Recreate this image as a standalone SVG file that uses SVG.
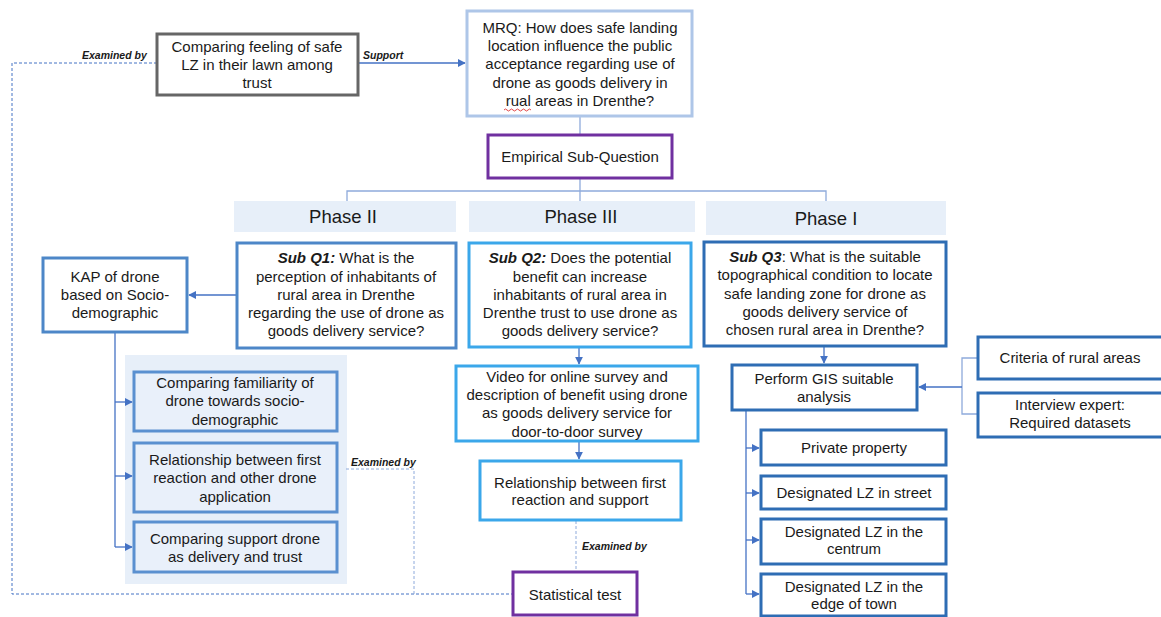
<svg xmlns="http://www.w3.org/2000/svg" width="1161" height="617" viewBox="0 0 1161 617">
<defs>
<marker id="ah" viewBox="0 0 10 10" refX="9" refY="5" markerWidth="8" markerHeight="8" markerUnits="userSpaceOnUse" orient="auto">
<path d="M0,0 L10,5 L0,10 z" fill="#4472c4"/>
</marker>
<style>
text{font-family:"Liberation Sans",Arial,sans-serif;fill:#1a1a1a;font-size:15px;text-anchor:middle}
.lbl{font-size:10.5px;font-weight:bold;font-style:italic;text-anchor:start}
.ph{font-size:18.5px}
.bi{font-weight:bold;font-style:italic}
.box{fill:#fff;stroke-width:3}
.gray{stroke:#666}
.light{stroke:#aec6e8}
.purple{stroke:#7030a0}
.mid{stroke:#4d87c8}
.cyan{stroke:#3ba7ea}
.dark{stroke:#2e6db4}
.grp{fill:#e9f0fa;stroke:#5a90d0;stroke-width:3}
.head{fill:#e7eff9}
.ln{fill:none;stroke:#4472c4;stroke-width:1.3}
.lt{fill:none;stroke:#8eaadb;stroke-width:1.3}
.ds{fill:none;stroke:#4472c4;stroke-width:1;stroke-dasharray:3,2}
.dsl{fill:none;stroke:#8eaadb;stroke-width:1;stroke-dasharray:3,2}
</style>
</defs>
<rect width="1161" height="617" fill="#fff"/>

<g id="group-bg"><rect x="125" y="355" width="222" height="229" fill="#e7eff9"/></g>

<g id="connectors">
<path class="ln" d="M358,63 H465" marker-end="url(#ah)"/>
<path class="ds" d="M157,63 H12 V594 H513"/>
<path class="lt" d="M580,116 V134"/>
<path class="lt" d="M580,178 V201"/>
<path class="lt" d="M347,201 V191 H826 V201"/>
<path class="ln" d="M236,295 H189" marker-end="url(#ah)"/>
<path class="ln" d="M115,332 V547"/>
<path class="ln" d="M115,402 H132" marker-end="url(#ah)"/>
<path class="ln" d="M115,476 H132" marker-end="url(#ah)"/>
<path class="ln" d="M115,547 H132" marker-end="url(#ah)"/>
<path class="dsl" d="M346,469 H414 V594"/>
<path class="ln" d="M579,347 V364" marker-end="url(#ah)"/>
<path class="ln" d="M579,441 V459" marker-end="url(#ah)"/>
<path class="dsl" d="M576,521 V572"/>
<path class="ln" d="M824,347 V363" marker-end="url(#ah)"/>
<path class="lt" d="M978,358 H962 V414 H978"/>
<path class="ln" d="M962,387 H919" marker-end="url(#ah)"/>
<path class="ln" d="M746,410 V594"/>
<path class="ln" d="M746,448 H759" marker-end="url(#ah)"/>
<path class="ln" d="M746,493 H759" marker-end="url(#ah)"/>
<path class="ln" d="M746,540 H759" marker-end="url(#ah)"/>
<path class="ln" d="M746,594 H759" marker-end="url(#ah)"/>
<text class="lbl" x="82" y="59">Examined by</text>
<text class="lbl" x="363" y="59">Support</text>
<text class="lbl" x="351" y="466">Examined by</text>
<text class="lbl" x="582" y="550">Examined by</text>
</g>

<g id="n-feeling">
<rect class="box gray" x="157" y="34" width="201" height="61"/>
<text x="257" y="52">Comparing feeling of safe</text>
<text x="257" y="70">LZ in their lawn among</text>
<text x="257" y="88">trust</text>
</g>

<g id="n-mrq">
<rect class="box light" x="467" y="11" width="225" height="105"/>
<text x="580" y="33">MRQ: How does safe landing</text>
<text x="580" y="51">location influence the public</text>
<text x="580" y="69">acceptance regarding use of</text>
<text x="580" y="88">drone as goods delivery in</text>
<text x="580" y="106">rual areas in Drenthe?</text>
<path d="M504,110 q1.5,-2 3,0 t3,0 t3,0 t3,0 t3,0 t3,0 t3,0 t3,0 t3,0" fill="none" stroke="#e03030" stroke-width="0.9"/>
</g>

<g id="n-empirical">
<rect class="box purple" x="488" y="135" width="184" height="43"/>
<text x="580" y="162">Empirical Sub-Question</text>
</g>

<g id="n-phase2">
<rect class="head" x="234" y="201" width="222" height="31"/>
<text class="ph" x="343" y="223">Phase II</text>
</g>
<g id="n-phase3">
<rect class="head" x="469" y="201" width="226" height="31"/>
<text class="ph" x="581" y="223">Phase III</text>
</g>
<g id="n-phase1">
<rect class="head" x="706" y="201" width="240" height="34"/>
<text class="ph" x="826" y="225">Phase I</text>
</g>

<g id="n-subq1">
<rect class="box mid" x="237" y="243" width="219" height="105"/>
<text x="346" y="263"><tspan class="bi">Sub Q1:</tspan> What is the</text>
<text x="346" y="282">perception of inhabitants of</text>
<text x="346" y="300">rural area in Drenthe</text>
<text x="346" y="318">regarding the use of drone as</text>
<text x="346" y="336">goods delivery service?</text>
</g>

<g id="n-subq2">
<rect class="box cyan" x="469" y="243" width="222" height="104"/>
<text x="580" y="263"><tspan class="bi">Sub Q2:</tspan> Does the potential</text>
<text x="580" y="282">benefit can increase</text>
<text x="580" y="300">inhabitants of rural area in</text>
<text x="580" y="318">Drenthe trust to use drone as</text>
<text x="580" y="336">goods delivery service?</text>
</g>

<g id="n-subq3">
<rect class="box dark" x="704" y="242" width="242" height="104"/>
<text x="825" y="262"><tspan class="bi">Sub Q3</tspan>:  What is the suitable</text>
<text x="825" y="280">topographical condition to locate</text>
<text x="825" y="299">safe landing zone for drone as</text>
<text x="825" y="317">goods delivery service of</text>
<text x="825" y="335">chosen rural area in Drenthe?</text>
</g>

<g id="n-kap">
<rect class="box mid" x="43" y="258" width="144" height="74"/>
<text x="115" y="282">KAP of drone</text>
<text x="115" y="300">based on Socio-</text>
<text x="115" y="318">demographic</text>
</g>

<g id="n-familiarity">
<rect class="grp" x="134" y="372" width="203" height="59"/>
<text x="235" y="388">Comparing familiarity of</text>
<text x="235" y="406">drone towards socio-</text>
<text x="235" y="425">demographic</text>
</g>
<g id="n-reaction-other">
<rect class="grp" x="134" y="443" width="203" height="69"/>
<text x="235" y="465">Relationship between first</text>
<text x="235" y="483">reaction and other drone</text>
<text x="235" y="502">application</text>
</g>
<g id="n-support-trust">
<rect class="grp" x="134" y="522" width="203" height="50"/>
<text x="235" y="544">Comparing support drone</text>
<text x="235" y="562">as delivery and trust</text>
</g>

<g id="n-video">
<rect class="box cyan" x="456" y="366" width="242" height="75"/>
<text x="577" y="382">Video for online survey and</text>
<text x="577" y="400">description of benefit using drone</text>
<text x="577" y="418">as goods delivery service for</text>
<text x="577" y="437">door-to-door survey</text>
</g>

<g id="n-reaction-support">
<rect class="box cyan" x="480" y="461" width="201" height="59"/>
<text x="580" y="488">Relationship between first</text>
<text x="580" y="505">reaction and support</text>
</g>

<g id="n-stat">
<rect class="box purple" x="513" y="572" width="124" height="43"/>
<text x="575" y="600">Statistical test</text>
</g>

<g id="n-gis">
<rect class="box dark" x="732" y="365" width="185" height="45"/>
<text x="824" y="384">Perform GIS suitable</text>
<text x="824" y="402">analysis</text>
</g>

<g id="n-criteria">
<rect class="box dark" x="978" y="337" width="190" height="42"/>
<text x="1070" y="363">Criteria of rural areas</text>
</g>
<g id="n-interview">
<rect class="box dark" x="978" y="393" width="190" height="44"/>
<text x="1070" y="410">Interview expert:</text>
<text x="1070" y="428">Required datasets</text>
</g>

<g id="n-private">
<rect class="box dark" x="761" y="430" width="185" height="35"/>
<text x="854" y="453">Private property</text>
</g>
<g id="n-street">
<rect class="box dark" x="761" y="476" width="185" height="33"/>
<text x="854" y="498">Designated LZ in street</text>
</g>
<g id="n-centrum">
<rect class="box dark" x="761" y="519" width="185" height="45"/>
<text x="854" y="537">Designated LZ in the</text>
<text x="854" y="554">centrum</text>
</g>
<g id="n-edge">
<rect class="box dark" x="761" y="574" width="185" height="42"/>
<text x="854" y="592">Designated LZ in the</text>
<text x="854" y="609">edge of town</text>
</g>
</svg>
